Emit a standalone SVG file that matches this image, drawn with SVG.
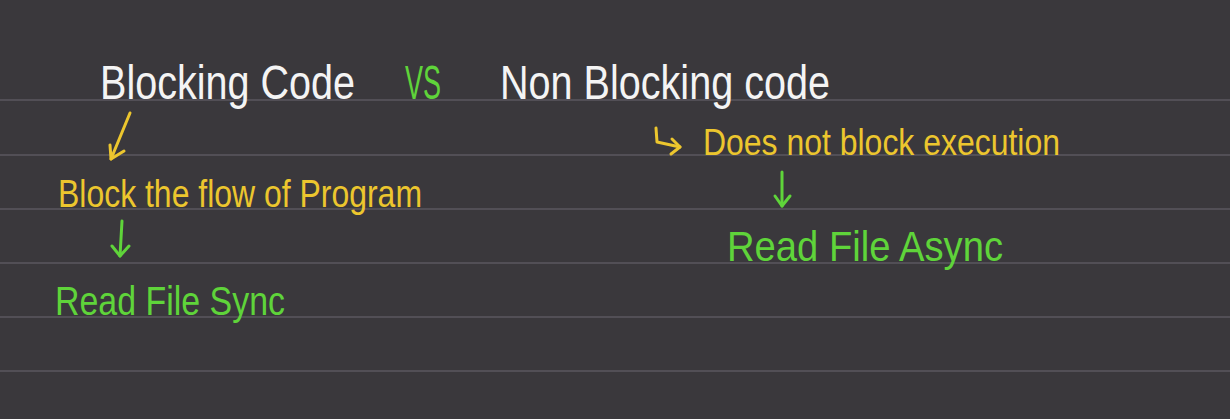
<svg xmlns="http://www.w3.org/2000/svg" width="1230" height="419" viewBox="0 0 1230 419">
  <defs>
    <style>
      .bg { fill: #3a383c; }
      .rule { stroke: #524f56; stroke-width: 2; }
      .t { font-family: "Liberation Sans", "DejaVu Sans", sans-serif; }
      .white { fill: #f4f4f4; }
      .yellow { fill: #ecc62e; }
      .green { fill: #5fd43a; }
      .ay { stroke: #ecc62e; stroke-width: 3; fill: none; stroke-linecap: round; stroke-linejoin: round; }
      .ag { stroke: #5fd43a; stroke-width: 3; fill: none; stroke-linecap: round; stroke-linejoin: round; }
    </style>
  </defs>
  <rect class="bg" x="0" y="0" width="1230" height="419"/>
  <g id="rules">
    <line class="rule" x1="0" y1="100" x2="1230" y2="100"/>
    <line class="rule" x1="0" y1="155" x2="1230" y2="155"/>
    <line class="rule" x1="0" y1="209" x2="1230" y2="209"/>
    <line class="rule" x1="0" y1="263" x2="1230" y2="263"/>
    <line class="rule" x1="0" y1="317" x2="1230" y2="317"/>
    <line class="rule" x1="0" y1="371" x2="1230" y2="371"/>
  </g>
  <g id="title-blocking">
    <text class="t white" x="100" y="99" font-size="48" textLength="255" lengthAdjust="spacingAndGlyphs">Blocking Code</text>
  </g>
  <g id="title-vs">
    <text class="t green" x="405" y="99" font-size="48" textLength="36" lengthAdjust="spacingAndGlyphs">VS</text>
  </g>
  <g id="title-nonblocking">
    <text class="t white" x="500" y="99" font-size="48" textLength="330" lengthAdjust="spacingAndGlyphs">Non Blocking code</text>
  </g>
  <g id="block-flow">
    <text class="t yellow" x="58" y="207" font-size="38" textLength="364" lengthAdjust="spacingAndGlyphs">Block the flow of Program</text>
  </g>
  <g id="read-file-sync">
    <text class="t green" x="55" y="315" font-size="40" textLength="230" lengthAdjust="spacingAndGlyphs">Read File Sync</text>
  </g>
  <g id="does-not-block">
    <text class="t yellow" x="703" y="155" font-size="36" textLength="357" lengthAdjust="spacingAndGlyphs">Does not block execution</text>
  </g>
  <g id="read-file-async">
    <text class="t green" x="727" y="261" font-size="42" textLength="276" lengthAdjust="spacingAndGlyphs">Read File Async</text>
  </g>
  <g id="connectors">
    <path class="ay" d="M130 113 L111 159"/>
    <path class="ay" d="M110 145 L111 159 L124 151"/>
    <path class="ag" d="M122 221 L120 256"/>
    <path class="ag" d="M112 246 L120 256 L129 246"/>
    <path class="ay" d="M656 128 L657 142 L680 147"/>
    <path class="ay" d="M672 139 L680 147 L671 154"/>
    <path class="ag" d="M782 172 L782 206"/>
    <path class="ag" d="M775 196 L782 206 L790 196"/>
  </g>
</svg>
